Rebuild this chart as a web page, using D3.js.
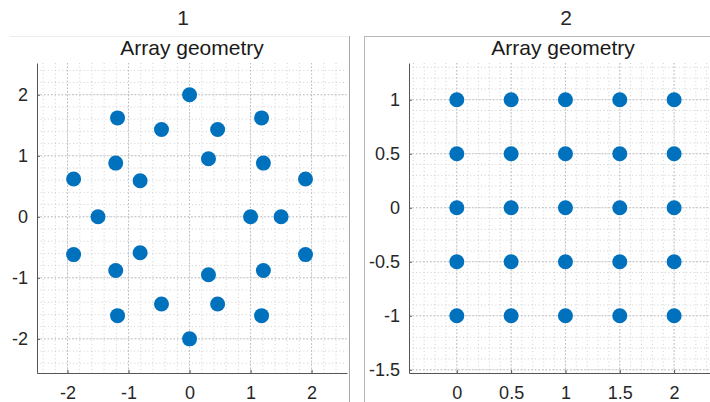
<!DOCTYPE html>
<html lang="en">
<head>
<meta charset="UTF-8">
<title>Array geometry</title>
<script src="https://d3js.org/d3.v7.min.js"></script>
<style>
    body { margin: 0; background: #fff; }
    text { font-family: "Liberation Sans", Arial, sans-serif; fill: #262626; }
    .axis path, .axis line { stroke: #555; }
    .axis text { font-size: 18px; fill: #262626; }
    .minor { stroke: #cfcfcf; stroke-dasharray: 1,2.6; }
    .major { stroke: #bdbdbd; stroke-dasharray: 1.5,2; }
    .dot { fill: #0072BD; }
</style>
</head>
<body>
<div id="container"></div>
<script>
const width = 710, height = 402;

// panel 1: circular array, sensor positions
const ring1X = [0, 1.18, 1.9, 1.9, 1.18, 0, -1.18, -1.9, -1.9, -1.18];
const ring1Y = [2, 1.62, 0.62, -0.62, -1.62, -2, -1.62, -0.62, 0.62, 1.62];
const ring2X = [1.5, 1.21, 0.46, -0.46, -1.21, -1.5, -1.21, -0.46, 0.46, 1.21];
const ring2Y = [0, 0.88, 1.43, 1.43, 0.88, 0, -0.88, -1.43, -1.43, -0.88];
const ring3X = [1, 0.31, -0.81, -0.81, 0.31];
const ring3Y = [0, 0.95, 0.59, -0.59, -0.95];

// panel 2: 5 x 5 rectangular array
const gridCols = [0, 0.5, 1, 1.5, 2];
const gridRows = [1, 0.5, 0, -0.5, -1];

const ticks1X = [-2, -1, 0, 1, 2];
const ticks1Y = [-2, -1, 0, 1, 2];
const ticks2X = [0, 0.5, 1, 1.5, 2];
const ticks2Y = [-1.5, -1, -0.5, 0, 0.5, 1];

const pts1 = [];
[[ring1X, ring1Y], [ring2X, ring2Y], [ring3X, ring3Y]].forEach(([xs, ys]) => {
    xs.forEach((x, i) => pts1.push([x, ys[i]]));
});
const pts2 = [];
gridRows.forEach(y => gridCols.forEach(x => pts2.push([x, y])));

const svg = d3.select("#container").append("svg")
    .attr("width", width).attr("height", height);

// panel frames
svg.append("line").attr("x1", 10).attr("x2", 348).attr("y1", 36.5).attr("y2", 36.5)
    .attr("stroke", "#ececec");
svg.append("line").attr("x1", 349.5).attr("x2", 349.5).attr("y1", 36).attr("y2", height)
    .attr("stroke", "#a8a8a8");
svg.append("line").attr("x1", 364).attr("x2", width).attr("y1", 36.5).attr("y2", 36.5)
    .attr("stroke", "#b8b8b8");
svg.append("line").attr("x1", 364.5).attr("x2", 364.5).attr("y1", 36).attr("y2", height)
    .attr("stroke", "#b8b8b8");

svg.append("text").attr("x", 183).attr("y", 25).attr("text-anchor", "middle")
    .style("font-size", "21px").text("1");
svg.append("text").attr("x", 566).attr("y", 25).attr("text-anchor", "middle")
    .style("font-size", "21px").text("2");

const fmt = d => String(d);

function drawPanel(opt) {
    const x = d3.scaleLinear().domain(opt.xDom).range([opt.left, opt.right]);
    const y = d3.scaleLinear().domain(opt.yDom).range([opt.bottom, opt.top]);
    const g = svg.append("g");
    const clipId = "clip" + opt.id;
    g.append("clipPath").attr("id", clipId).append("rect")
        .attr("x", opt.left).attr("y", opt.top)
        .attr("width", opt.right - opt.left).attr("height", opt.bottom - opt.top);
    const grid = g.append("g").attr("clip-path", `url(#${clipId})`);

    const minorX = d3.range(Math.ceil(opt.xDom[0] / opt.minor), Math.floor(opt.xDom[1] / opt.minor) + 1)
        .map(k => +(k * opt.minor).toFixed(3));
    const minorY = d3.range(Math.ceil(opt.yDom[0] / opt.minor), Math.floor(opt.yDom[1] / opt.minor) + 1)
        .map(k => +(k * opt.minor).toFixed(3));

    grid.selectAll(".mx").data(minorX).enter().append("line")
        .attr("class", "minor")
        .attr("x1", d => x(d)).attr("x2", d => x(d))
        .attr("y1", opt.top).attr("y2", opt.bottom);
    grid.selectAll(".my").data(minorY).enter().append("line")
        .attr("class", "minor")
        .attr("y1", d => y(d)).attr("y2", d => y(d))
        .attr("x1", opt.left).attr("x2", opt.right);
    grid.selectAll(".gx").data(opt.xTicks).enter().append("line")
        .attr("class", "major")
        .attr("x1", d => x(d)).attr("x2", d => x(d))
        .attr("y1", opt.top).attr("y2", opt.bottom);
    grid.selectAll(".gy").data(opt.yTicks).enter().append("line")
        .attr("class", "major")
        .attr("y1", d => y(d)).attr("y2", d => y(d))
        .attr("x1", opt.left).attr("x2", opt.right);

    // points
    grid.selectAll(".dot").data(opt.points).enter().append("circle")
        .attr("class", "dot")
        .attr("r", 7.5)
        .attr("cx", d => x(d[0]))
        .attr("cy", d => y(d[1]));

    // axes with inward ticks, MATLAB style
    g.append("g").attr("class", "axis")
        .attr("transform", `translate(0,${opt.bottom})`)
        .call(d3.axisBottom(x).tickValues(opt.xTicks).tickFormat(fmt)
            .tickSize(-3).tickPadding(13).tickSizeOuter(0));
    g.append("g").attr("class", "axis")
        .attr("transform", `translate(${opt.left},0)`)
        .call(d3.axisLeft(y).tickValues(opt.yTicks).tickFormat(fmt)
            .tickSize(-3).tickPadding(9).tickSizeOuter(0));

    g.append("text").attr("x", opt.titleX).attr("y", 55).attr("text-anchor", "middle")
        .style("font-size", "21px").style("fill", "#1a1a1a").text("Array geometry");
}

drawPanel({
    id: 1, xDom: [-2.5, 2.58], yDom: [-2.56, 2.52],
    left: 37, right: 347, top: 63, bottom: 373,
    minor: 0.2, xTicks: ticks1X, yTicks: ticks1Y, points: pts1, titleX: 192
});
drawPanel({
    id: 2, xDom: [-0.44, 2.45], yDom: [-1.53, 1.34],
    left: 409, right: 723, top: 63, bottom: 373,
    minor: 0.1, xTicks: ticks2X, yTicks: ticks2Y, points: pts2, titleX: 563
});
</script>
</body>
</html>
